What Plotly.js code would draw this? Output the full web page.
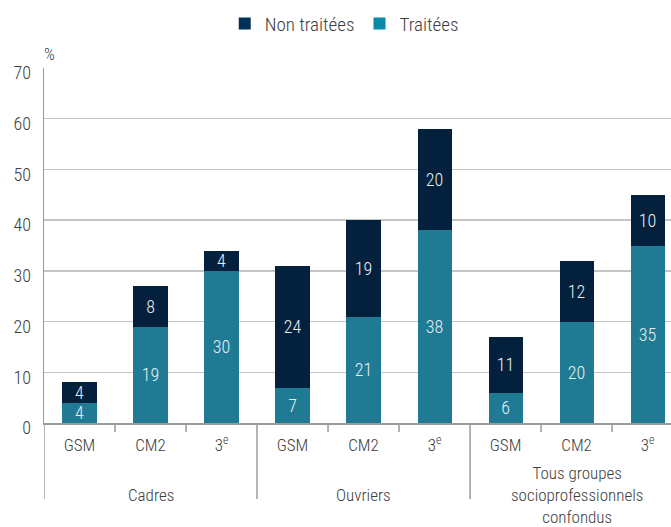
<!DOCTYPE html>
<html>
<head>
<meta charset="utf-8">
<script src="https://cdn.plot.ly/plotly-3.0.1.min.js"></script>
<style>html,body{margin:0;padding:0;background:#fff;}#chart{width:671px;height:527px;}</style>
</head>
<body>
<div id="chart"></div>
<script>
// ---- data ----
var groups = ["Cadres", "Ouvriers", "Tous groupes<br>socioprofessionnels<br>confondus"];
var levels = ["GSM", "CM2", "3<sup>e</sup>"];
var traitees = [4, 19, 30, 7, 21, 38, 6, 20, 35];
var nonTraitees = [4, 8, 4, 24, 19, 20, 11, 12, 10];
var yTicks = [0, 10, 20, 30, 40, 50, 60, 70];

// ---- build ----
var FONT = '"Roboto Condensed", "Open Sans Condensed", Roboto, sans-serif';
var W = 300;
var TXT = '#3d3d3d';
var colT = '#1f7a93', colN = '#03203c';
var legT = '#0a8aa5', legN = '#013058';

var xIdx = [], tickText = [];
groups.forEach(function (g, gi) {
  levels.forEach(function (l, li) {
    xIdx.push(gi * levels.length + li);
    tickText.push(l);
  });
});

var barBase = {
  type: 'bar', x: xIdx, textposition: 'inside', insidetextanchor: 'middle', textangle: 0,
  constraintext: 'none', textfont: {family: FONT, size: 18, weight: W, color: '#e8eef2'},
  hoverinfo: 'y', showlegend: false
};
var tT = Object.assign({}, barBase, {y: traitees, text: traitees.map(String), marker: {color: colT}, name: 'Traitées'});
var tN = Object.assign({}, barBase, {y: nonTraitees, text: nonTraitees.map(String), marker: {color: colN}, name: 'Non traitées'});
var lN = {type: 'bar', x: [null], y: [null], name: 'Non traitées', marker: {color: legN}, showlegend: true};
var lT = {type: 'bar', x: [null], y: [null], name: 'Traitées', marker: {color: legT}, showlegend: true};

var n = levels.length;
var plotH = 355, below = 76;
var shapes = [], annotations = [];
var minorVals = [];
groups.forEach(function (g, gi) {
  var x0 = gi * n - 0.5;
  shapes.push({type: 'line', xref: 'x', yref: 'paper', x0: x0, x1: x0, y0: 0, y1: -below / plotH,
    line: {color: '#9a9a9a', width: 1.5}});
  for (var k = 1; k < n; k++) minorVals.push(x0 + k);
  annotations.push({xref: 'x', yref: 'paper', x: gi * n + (n - 1) / 2, y: -72 / plotH,
    text: g, showarrow: false, xanchor: 'center', yanchor: 'middle',
    font: {family: FONT, size: 17, weight: W, color: TXT}});
});
minorVals.forEach(function (v) {
  shapes.push({type: 'line', xref: 'x', yref: 'paper', x0: v, x1: v, y0: 0, y1: -9 / plotH,
    line: {color: '#9a9a9a', width: 1.5}});
});
annotations.push({xref: 'paper', yref: 'paper', x: 0, y: 1, xanchor: 'left', yanchor: 'bottom',
  xshift: -2, yshift: 2, text: '%', showarrow: false, font: {family: FONT, size: 17, weight: W, color: TXT}});

var layout = {
  width: 671, height: 527,
  margin: {l: 44, r: 0, t: 68, b: 104},
  paper_bgcolor: '#fff', plot_bgcolor: '#fff',
  font: {family: FONT, size: 17, weight: W, color: TXT},
  barmode: 'stack', bargap: 0.52,
  showlegend: true,
  legend: {orientation: 'h', x: 0.513, xref: 'container', xanchor: 'center', y: 0.955, yref: 'container', yanchor: 'middle',
    font: {family: FONT, size: 19, weight: W, color: TXT}, itemwidth: 30, traceorder: 'normal', itemclick: false},
  xaxis: {range: [-0.5, 8.33], tickmode: 'array', tickvals: xIdx, ticktext: tickText,
    showgrid: false, zeroline: false, showline: true, linecolor: '#9a9a9a', linewidth: 1.5,
    ticks: '', ticklabelstandoff: 6, tickfont: {family: FONT, size: 17, weight: W, color: TXT}, fixedrange: true},
  yaxis: {range: [0, 70], tickmode: 'array', tickvals: yTicks, ticktext: yTicks.map(String),
    showgrid: true, gridcolor: '#c4c4c4', gridwidth: 1.5, zeroline: false,
    showline: true, linecolor: '#9a9a9a', linewidth: 1.5, ticks: '',
    ticklabelstandoff: 8, ticklabelshift: 5, tickfont: {family: FONT, size: 18, weight: W, color: TXT}, fixedrange: true},
  shapes: shapes,
  annotations: annotations
};

Plotly.newPlot('chart', [tT, tN, lN, lT], layout, {displayModeBar: false, staticPlot: true});
</script>
</body>
</html>
